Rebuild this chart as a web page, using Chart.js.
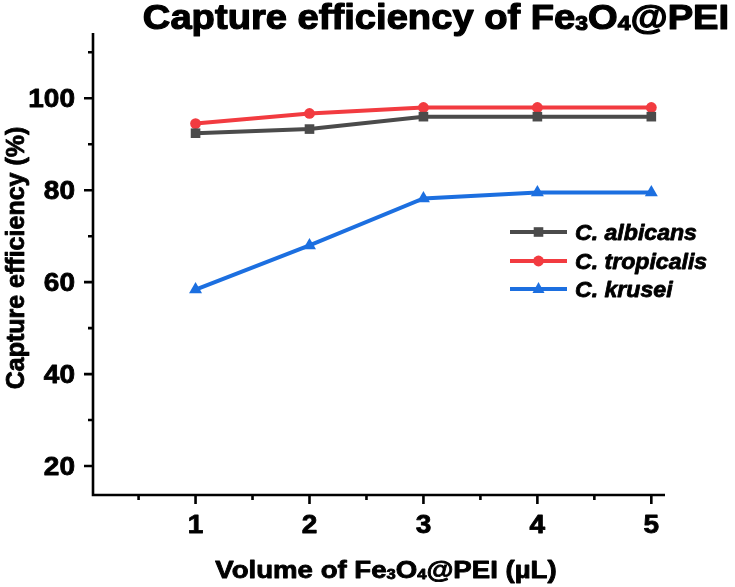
<!DOCTYPE html>
<html>
<head>
<meta charset="utf-8">
<script src="https://cdn.jsdelivr.net/npm/chart.js@4/dist/chart.umd.min.js"></script>
<style>
  html, body { margin: 0; padding: 0; background: #fff; }
  #c { display: block; }
</style>
</head>
<body>
<canvas id="c" width="735" height="587"></canvas>
<script>
// values
const volumes = [1, 2, 3, 4, 5];
const albicans = [92.4, 93.3, 96.0, 96.0, 96.0];
const tropicalis = [94.5, 96.7, 98.0, 98.0, 98.0];
const krusei = [58.4, 68.0, 78.2, 79.5, 79.5];
const seriesNames = ["C. albicans", "C. tropicalis", "C. krusei"];

const xTicks = [1, 2, 3, 4, 5];
const xMinor = [0.5, 1.5, 2.5, 3.5, 4.5];
const yTicks = [20, 40, 60, 80, 100];
const yMinor = [30, 50, 70, 90, 110];

const COLORS = ["#4b4b4b", "#f23b40", "#1c6fe0"];
const FONT = "'Liberation Sans', Arial, sans-serif";

// rich text with subscripts, stretched along the reading direction and a bit heavier
function drawRich(ctx, segs, x, y, size, o = {}) {
  const style = (o.italic ? "italic " : "") + "bold ";
  const fontFor = (sub) => style + (sub ? size * 0.6 : size) + "px " + FONT;
  let w = 0;
  segs.forEach(([t, sub]) => { ctx.font = fontFor(sub); w += ctx.measureText(t).width; });
  ctx.save();
  ctx.translate(x, y);
  if (o.rotate) ctx.rotate(o.rotate);
  ctx.scale(o.sx || 1, 1);
  ctx.fillStyle = "#000";
  ctx.strokeStyle = "#000";
  ctx.lineWidth = o.heavy || 0.8;
  ctx.lineJoin = "round";
  ctx.textBaseline = "alphabetic";
  ctx.textAlign = "left";
  let cx = o.align === "center" ? -w / 2 : o.align === "right" ? -w : 0;
  segs.forEach(([t, sub]) => {
    ctx.font = fontFor(sub);
    const dy = sub ? size * 0.03 : 0;
    ctx.fillText(t, cx, dy);
    ctx.strokeText(t, cx, dy);
    cx += ctx.measureText(t).width;
  });
  ctx.restore();
}

function marker(ctx, style, x, y, color) {
  ctx.save();
  ctx.fillStyle = color;
  ctx.beginPath();
  if (style === "rect") ctx.rect(x - 4.8, y - 4.8, 9.6, 9.6);
  else if (style === "circle") ctx.arc(x, y, 5.4, 0, Math.PI * 2);
  else {
    ctx.moveTo(x, y - 7);
    ctx.lineTo(x + 6, y + 4);
    ctx.lineTo(x - 6, y + 4);
    ctx.closePath();
  }
  ctx.fill();
  ctx.restore();
}

const axesPlugin = {
  id: "axesPlugin",
  afterDraw(chart) {
    const { ctx, chartArea: a, scales } = chart;
    const xs = scales.x, ys = scales.y;
    ctx.save();
    ctx.strokeStyle = "#000";
    ctx.lineWidth = 2.6;
    ctx.lineCap = "butt";
    ctx.beginPath();
    ctx.moveTo(a.left, a.top);
    ctx.lineTo(a.left, a.bottom);
    ctx.lineTo(a.right, a.bottom);
    ctx.stroke();

    ctx.beginPath();
    xTicks.forEach((v) => { const p = xs.getPixelForValue(v); ctx.moveTo(p, a.bottom); ctx.lineTo(p, a.bottom + 9); });
    xMinor.forEach((v) => { const p = xs.getPixelForValue(v); ctx.moveTo(p, a.bottom); ctx.lineTo(p, a.bottom + 5); });
    yTicks.forEach((v) => { const p = ys.getPixelForValue(v); ctx.moveTo(a.left, p); ctx.lineTo(a.left - 9, p); });
    yMinor.forEach((v) => { const p = ys.getPixelForValue(v); ctx.moveTo(a.left, p); ctx.lineTo(a.left - 5, p); });
    ctx.stroke();
    ctx.restore();

    // tick labels
    xTicks.forEach((v) => drawRich(ctx, [[String(v)]], xs.getPixelForValue(v), a.bottom + 38, 25, { align: "center", sx: 1.12 }));
    yTicks.forEach((v) => drawRich(ctx, [[String(v)]], a.left - 18, ys.getPixelForValue(v) + 9, 25, { align: "right", sx: 1.12 }));

    // titles
    drawRich(ctx, [["Capture efficiency of Fe"], ["3", true], ["O"], ["4", true], ["@PEI"]], 436, 29, 35, { align: "center", sx: 1.09, heavy: 1.2 });
    drawRich(ctx, [["Volume of Fe"], ["3", true], ["O"], ["4", true], ["@PEI (µL)"]], 386, 578, 23, { align: "center", sx: 1.2 });
    drawRich(ctx, [["Capture efficiency (%)"]], 24, 258, 25, { align: "center", sx: 1.0, rotate: -Math.PI / 2 });

    // legend
    const styles = ["rect", "circle", "triangle"];
    const rows = [232, 261, 289];
    seriesNames.forEach((name, i) => {
      ctx.save();
      ctx.strokeStyle = COLORS[i];
      ctx.lineWidth = 4;
      ctx.beginPath();
      ctx.moveTo(510, rows[i]);
      ctx.lineTo(567, rows[i]);
      ctx.stroke();
      ctx.restore();
      marker(ctx, styles[i], 538.5, rows[i], COLORS[i]);
      drawRich(ctx, [[name]], 575, rows[i] + 7.5, 22, { italic: true, sx: 1.05 });
    });
  },
};

const toPoints = (arr) => volumes.map((v, i) => ({ x: v, y: arr[i] }));

new Chart(document.getElementById("c"), {
  type: "line",
  data: {
    datasets: [
      { label: seriesNames[0], data: toPoints(albicans), borderColor: COLORS[0], backgroundColor: COLORS[0], pointStyle: "rect", pointRadius: 6.8 },
      { label: seriesNames[1], data: toPoints(tropicalis), borderColor: COLORS[1], backgroundColor: COLORS[1], pointStyle: "circle", pointRadius: 5.4 },
      { label: seriesNames[2], data: toPoints(krusei), borderColor: COLORS[2], backgroundColor: COLORS[2], pointStyle: "triangle", pointRadius: 7.5 },
    ].map((d) => ({ ...d, borderWidth: 4, pointBorderWidth: 0, tension: 0, clip: false })),
  },
  options: {
    responsive: false,
    animation: false,
    layout: { padding: { left: 93, right: 70, top: 33, bottom: 92 } },
    plugins: { legend: { display: false }, tooltip: { enabled: false }, title: { display: false } },
    scales: {
      x: { type: "linear", min: 0.1, max: 5.12, display: false },
      y: { type: "linear", min: 13.7, max: 114.2, display: false },
    },
  },
  plugins: [axesPlugin],
});
</script>
</body>
</html>
